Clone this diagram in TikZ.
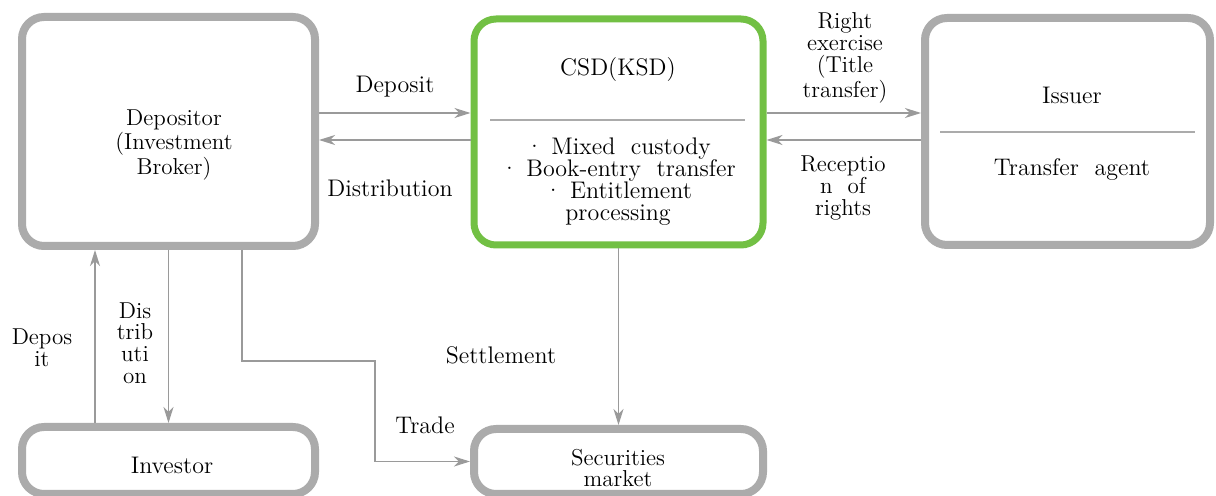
\documentclass[tikz,border=0pt]{standalone}
\usepackage{tikz}
\usetikzlibrary{arrows.meta}
\definecolor{boxgray}{HTML}{ABABAB}
\definecolor{arrgray}{HTML}{9A9A9A}
\definecolor{csdgreen}{HTML}{72C044}

\begin{document}
\begin{tikzpicture}[x=0.5pt, y=-0.5pt, >={Stealth[length=8pt, width=5pt, inset=2.5pt]},
    caixa/.style={draw=boxgray, line width=4pt, rounded corners=11pt, fill=white},
    fletxa/.style={->, draw=arrgray, line width=0.6pt},
    etiq/.style={align=center, inner sep=0pt, font=\fontsize{11.5}{10.8}\selectfont}]

\useasboundingbox (0,0) rectangle (1216,496);

% Caixes
\node[caixa, minimum width=146.5pt, minimum height=114.5pt] (dep) at (168.5,131.5) {};
\node[caixa, draw=csdgreen, line width=3.5pt,
      minimum width=144.5pt, minimum height=113pt] (csd) at (618.5,132) {};
\node[caixa, minimum width=142.5pt, minimum height=113.5pt] (iss) at (1067.5,131.5) {};
\node[caixa, minimum width=146.5pt, minimum height=33.5pt] (inv) at (168.5,460.5) {};
\node[caixa, minimum width=144.5pt, minimum height=32.5pt] (mkt) at (618.5,461.5) {};

% Separadors
\draw[boxgray, line width=0.6pt] (490,120) -- (745,120);
\draw[boxgray, line width=0.6pt] (940,132) -- (1195,132);

% Textos de les caixes
\node[etiq] (deptxt) at (174,145) {Depositor\\(Investment\\Broker)};
\node[etiq, font=\fontsize{12}{12}\selectfont] (csdtxt) at (618,70) {CSD(KSD)};
\node[etiq, font=\fontsize{12}{11}\selectfont] (csdfun) at (618,182)
    {\textperiodcentered{} Mixed\ \ custody\\
     \textperiodcentered{} Book-entry\ \ transfer\\
     \textperiodcentered{} Entitlement\\processing};
\node[etiq, font=\fontsize{12}{12}\selectfont] (isstxt) at (1072,95) {Issuer};
\node[etiq, font=\fontsize{12}{12}\selectfont] (tratxt) at (1072,170) {Transfer\ \ agent};
\node[etiq, font=\fontsize{12}{12}\selectfont] (invtxt) at (172,465) {Investor};
\node[etiq] (mkttxt) at (618,468) {Securities\\market};

% Punts auxiliars
\coordinate (ya) at (0,113);
\coordinate (yb) at (0,140);
\coordinate (xa) at (95,0);
\coordinate (xt) at (242,0);
\coordinate (tc) at (375,361);

% Depositor - CSD
\draw[fletxa] (dep.east |- ya) -- (csd.west |- ya);
\draw[fletxa] (csd.west |- yb) -- (dep.east |- yb);
\node[etiq, font=\fontsize{12}{12}\selectfont] (lbdep) at (395,87) {Deposit};
\node[etiq, font=\fontsize{12}{12}\selectfont] (lbdis) at (390,188) {Distribution};

% CSD - Issuer
\draw[fletxa] (csd.east |- ya) -- (iss.west |- ya);
\draw[fletxa] (iss.west |- yb) -- (csd.east |- yb);
\node[etiq] (lbright) at (845,58) {Right\\exercise\\(Title\\transfer)};
\node[etiq] (lbrec) at (843,188) {Receptio\\n\ \ of\\rights};

% Investor - Depositor
\draw[fletxa] (inv.north -| xa) -- (dep.south -| xa);
\draw[fletxa] (dep.south) -- (inv.north);
\node[etiq] (lbdep2) at (42,348) {Depos\\it};
\node[etiq] (lbdis2) at (135,343) {Dis\\trib\\uti\\on};

% Trade
\draw[fletxa] (dep.south -| xt) |- (tc) |- (mkt.west);
\node[etiq, font=\fontsize{12}{12}\selectfont] (lbtrade) at (425,425) {Trade};

% Settlement
\draw[fletxa] (csd.south) -- (mkt.north);
\node[etiq, font=\fontsize{12}{12}\selectfont] (lbsett) at (501,355) {Settlement};

\end{tikzpicture}
\end{document}
